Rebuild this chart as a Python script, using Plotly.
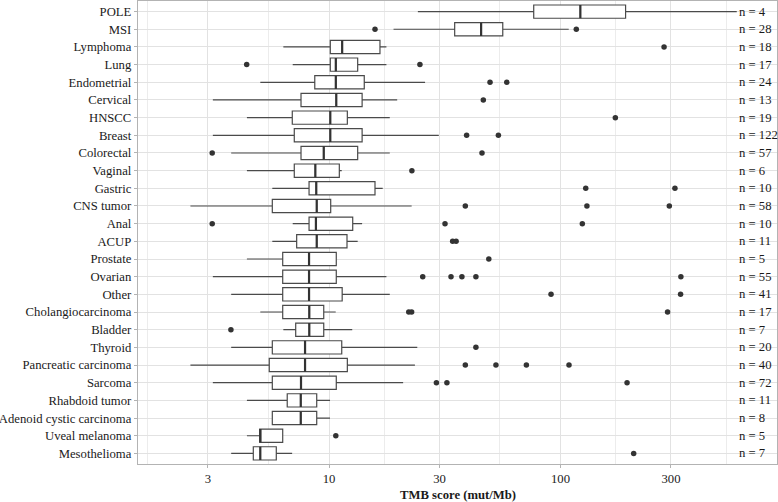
import plotly.graph_objects as go

categories = ["POLE", "MSI", "Lymphoma", "Lung", "Endometrial", "Cervical", "HNSCC",
              "Breast", "Colorectal", "Vaginal", "Gastric", "CNS tumor", "Anal", "ACUP",
              "Prostate", "Ovarian", "Other", "Cholangiocarcinoma", "Bladder", "Thyroid",
              "Pancreatic carcinoma", "Sarcoma", "Rhabdoid tumor", "Adenoid cystic carcinoma",
              "Uveal melanoma", "Mesothelioma"]

lower_whisker = [24.2, 19.0, 6.35, 6.97, 5.05, 3.15, 4.42, 3.15, 3.78, 4.42, 5.69, 2.52, 6.97,
                 5.69, 4.42, 3.15, 3.78, 5.05, 6.35, 3.78, 2.52, 3.15, 4.42, 5.69, 4.42, 3.78]
q1_values = [76.6, 34.9, 10.13, 10.13, 8.68, 7.57, 6.94, 7.08, 7.57, 7.08, 8.2, 5.69, 8.2,
             7.25, 6.31, 6.31, 6.31, 6.31, 7.18, 5.69, 5.52, 5.69, 6.6, 5.69, 5.02, 4.71]
median_values = [121.8, 45.4, 11.4, 10.7, 10.7, 10.75, 10.13, 10.13, 9.49, 8.73, 8.81, 8.85, 8.78,
                 8.85, 8.2, 8.2, 8.2, 8.22, 8.22, 7.88, 7.88, 7.57, 7.55, 7.55, 5.05, 5.05]
q3_values = [191.0, 56.3, 16.6, 13.3, 14.2, 13.9, 12.0, 13.9, 13.3, 11.08, 15.8, 10.17, 12.66,
             11.96, 10.75, 10.75, 11.4, 9.49, 9.49, 11.35, 12.0, 10.75, 8.85, 8.85, 6.31, 5.92]
upper_whisker = [577.0, 108.5, 17.7, 17.7, 26.0, 19.7, 18.3, 29.8, 18.3, 11.35, 17.06, 22.75, 13.9,
                 13.3, 10.75, 17.7, 18.3, 10.69, 12.6, 24.06, 23.5, 20.9, 10.1, 10.1, 6.31, 6.93]
outliers = [
    [],
    [15.8, 117.0],
    [280.0],
    [4.41, 24.7],
    [49.6, 58.6],
    [46.4],
    [172.5],
    [39.3, 53.9],
    [3.13, 45.8],
    [22.8],
    [128.5, 312.0],
    [38.8, 130.0, 295.0],
    [3.13, 31.7, 124.2],
    [34.2, 35.4],
    [49.0],
    [25.4, 33.65, 37.5, 43.1, 331.0],
    [91.0, 330.0],
    [22.1, 22.75, 290.0],
    [3.77],
    [43.1],
    [38.8, 52.6, 71.2, 108.8],
    [29.1, 32.3, 193.8],
    [],
    [],
    [10.7],
    [207.0],
]
n_counts = [4, 28, 18, 17, 24, 13, 19, 122, 57, 6, 10, 58, 10, 11, 5, 55, 41, 17, 7, 20, 40, 72,
            11, 8, 5, 7]

x_tick_values = [3, 10, 30, 100, 300]
x_tick_labels = ["3", "10", "30", "100", "300"]
x_minor_values = [1.643, 5.477, 17.32, 54.77, 173.2, 519.6]

FONT = "Liberation Serif"
FS = 12.7
TXT = "#1a1a1a"
BOX_COLOR = "#4a4a4a"
GRID = "#e2e2e2"
BORDER = "#b3b3b3"

fig = go.Figure()

fig.add_trace(go.Box(
    orientation="h", y=categories,
    q1=q1_values, median=median_values, q3=q3_values,
    lowerfence=lower_whisker, upperfence=upper_whisker,
    boxpoints=False, fillcolor="white", whiskerwidth=0, width=0.75,
    line=dict(color=BOX_COLOR, width=1.2), hoverinfo="skip", showlegend=False,
))

# thicker median line (ggplot-style)
fig.add_trace(go.Box(
    orientation="h", y=categories,
    q1=median_values, median=median_values, q3=median_values,
    lowerfence=median_values, upperfence=median_values,
    boxpoints=False, fillcolor="rgba(0,0,0,0)", whiskerwidth=0, width=0.75,
    line=dict(color="#333333", width=2.2), hoverinfo="skip", showlegend=False,
))

out_x, out_y = [], []
for cat, vals in zip(categories, outliers):
    for v in vals:
        out_x.append(v)
        out_y.append(cat)

fig.add_trace(go.Scatter(
    x=out_x, y=out_y, mode="markers",
    marker=dict(color="#333333", size=5.5),
    hoverinfo="skip", showlegend=False,
))

for cat, n in zip(categories, n_counts):
    fig.add_annotation(
        xref="paper", yref="y", x=0.9374, y=cat, text=f"n = {n}",
        showarrow=False, xanchor="left", yanchor="middle",
        font=dict(family=FONT, size=FS, color=TXT),
    )

fig.add_annotation(
    xref="paper", yref="paper", x=0.5, y=-0.067, text="<b>TMB score (mut/Mb)</b>",
    showarrow=False, xanchor="center", yanchor="middle",
    font=dict(family=FONT, size=FS, color=TXT),
)

fig.update_layout(
    width=778, height=502,
    margin=dict(l=138, r=1, t=1, b=38, autoexpand=False),
    paper_bgcolor="white", plot_bgcolor="white",
    font=dict(family=FONT, size=FS, color=TXT),
    showlegend=False,
    boxmode="overlay",
)

fig.update_xaxes(
    type="log", range=[0.175, 2.935], automargin=False,
    tickmode="array", tickvals=x_tick_values, ticktext=x_tick_labels,
    showgrid=True, gridcolor=GRID, gridwidth=1,
    minor=dict(tickmode="array", tickvals=x_minor_values, showgrid=True,
               gridcolor="#ececec", gridwidth=0.6, ticks=""),
    zeroline=False,
    showline=True, mirror=True, linecolor=BORDER, linewidth=1.3,
    ticks="outside", ticklen=3, tickcolor=BORDER, tickwidth=1,
    tickfont=dict(family=FONT, size=FS, color=TXT),
)

fig.update_yaxes(
    type="category", categoryorder="array", categoryarray=categories,
    range=[len(categories) - 0.4, -0.6], automargin=False,
    showgrid=True, gridcolor=GRID, gridwidth=1,
    zeroline=False,
    showline=True, mirror=True, linecolor=BORDER, linewidth=1.3,
    ticks="outside", ticklen=3, tickcolor=BORDER, tickwidth=1,
    tickfont=dict(family=FONT, size=FS, color=TXT),
)

fig.write_html(
    "out.html",
    config={"displayModeBar": False},
    post_script="document.body.style.margin='0';document.body.style.padding='0';",
)
